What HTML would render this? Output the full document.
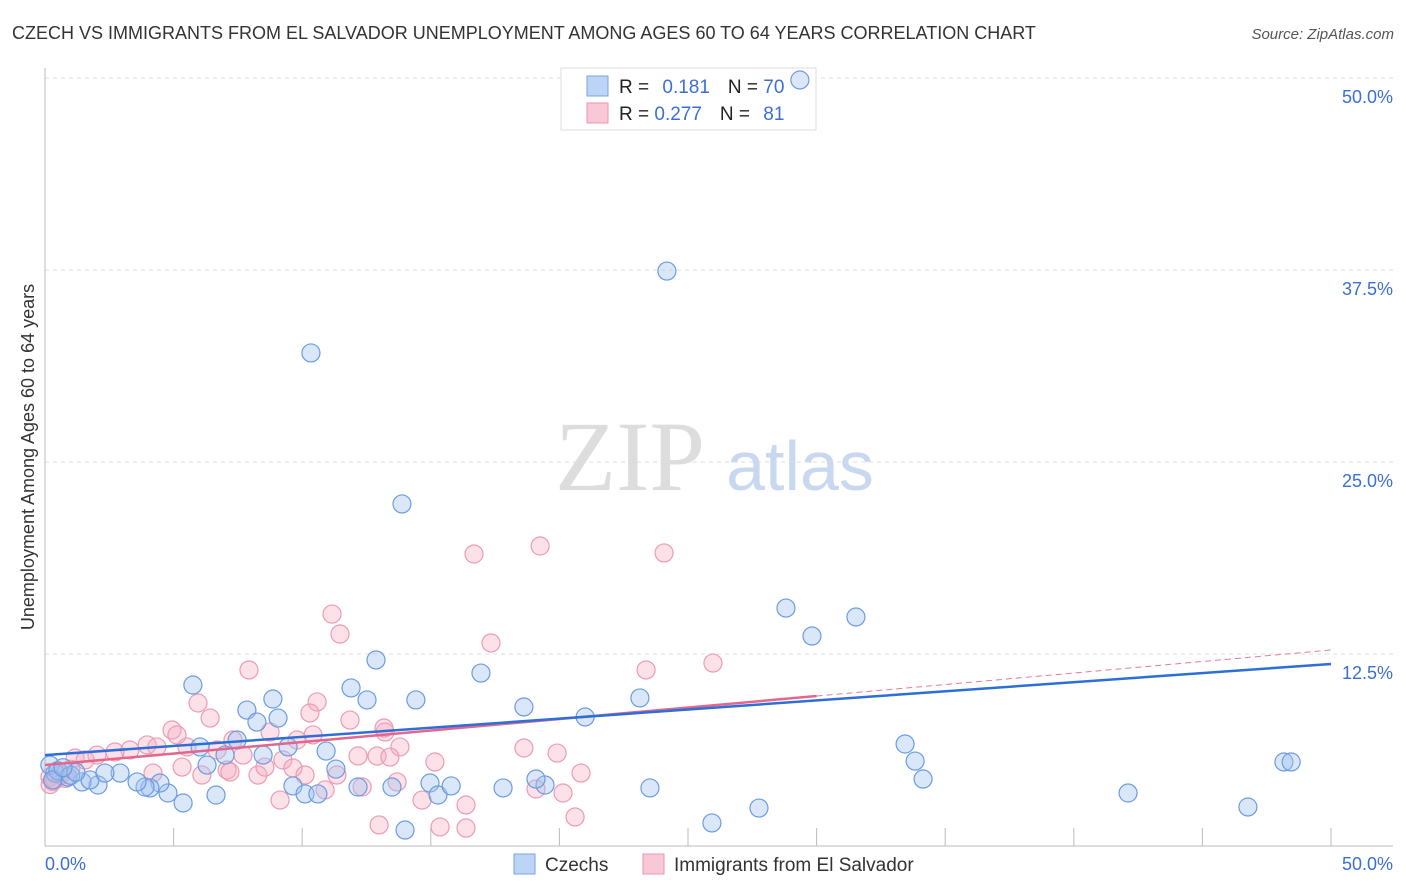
<!DOCTYPE html>
<html><head><meta charset="utf-8"><style>
body{margin:0;background:#fff;font-family:"Liberation Sans",sans-serif}
svg{display:block}
</style></head><body>
<svg id="c" width="1406" height="892" xmlns="http://www.w3.org/2000/svg">
<text x="12" y="39" font-size="18" fill="#333">CZECH VS IMMIGRANTS FROM EL SALVADOR UNEMPLOYMENT AMONG AGES 60 TO 64 YEARS CORRELATION CHART</text>
<text x="1394" y="39" font-size="15" fill="#555" font-style="italic" text-anchor="end">Source: ZipAtlas.com</text>
<text x="630" y="490" font-size="100" fill="#ddd" font-family="Liberation Serif,serif" text-anchor="middle">ZIP</text>
<text x="800" y="490" font-size="70" fill="#c8d8f0" text-anchor="middle">atlas</text>
<text transform="translate(34,457) rotate(-90)" font-size="18" fill="#333" text-anchor="middle">Unemployment Among Ages 60 to 64 years</text>
<g id="grid"></g>
<g>
<rect x="561" y="68" width="255" height="62" fill="#fff" stroke="#ddd"/>
<rect x="587" y="76" width="21" height="20" fill="#bcd4f6" stroke="#7aa3e0"/>
<rect x="587" y="103" width="21" height="20" fill="#f9c8d6" stroke="#eb93ad"/>
<text x="619" y="93" font-size="19" fill="#222">R = <tspan fill="#3b6fd4" dx="8">0.181</tspan><tspan dx="18" fill="#222">N = </tspan><tspan fill="#3b6fd4">70</tspan></text>
<text x="619" y="120" font-size="19" fill="#222">R = <tspan fill="#3b6fd4">0.277</tspan><tspan dx="18" fill="#222">N = </tspan><tspan fill="#3b6fd4" dx="8">81</tspan></text>
</g>
<g id="pts"></g><g id="lines"></g>
<g>
<rect x="514" y="854" width="21" height="20" fill="#bcd4f6" stroke="#7aa3e0"/>
<text x="545" y="871" font-size="19" fill="#333">Czechs</text>
<rect x="643" y="854" width="21" height="20" fill="#f9c8d6" stroke="#eb93ad"/>
<text x="674" y="871" font-size="19" fill="#333">Immigrants from El Salvador</text>
</g>
</svg>
<script>
const yTicks=[12.5,25,37.5,50];
const yTickLabels=["12.5%","25.0%","37.5%","50.0%"];
const xTicks=[0,5,10,15,20,25,30,35,40,45,50];
const czechX=[5.75,7.85,8.86,8.24,9.06,14.42,11.90,12.52,12.87,6.03,7.47,7.00,8.48,9.45,10.93,11.31,6.30,9.64,10.11,10.61,12.17,13.49,14.97,15.28,14.00,6.65,5.37,4.78,4.47,4.08,3.89,3.58,2.92,2.06,1.44,1.75,0.89,0.39,0.19,2.33,29.35,24.18,10.34,13.88,28.81,31.53,29.82,16.95,23.13,18.62,21.00,33.44,33.83,48.17,48.45,42.11,46.77,34.14,27.76,25.93,23.52,19.44,19.09,17.81,15.79,0.5,1.0,0.3,1.2,0.7];
const czechY=[10.48,8.85,9.57,8.07,8.33,9.51,10.29,9.51,12.11,6.45,6.90,5.92,5.92,6.45,6.18,5.01,5.27,3.91,3.39,3.39,3.84,3.84,4.10,3.32,1.04,3.32,2.80,3.45,4.10,3.78,3.84,4.17,4.75,3.97,4.17,4.30,4.49,4.75,5.27,4.75,49.87,37.43,32.10,22.27,15.49,14.91,13.67,11.26,9.64,9.05,8.40,6.64,5.53,5.47,5.47,3.45,2.54,4.36,2.47,1.50,3.78,3.97,4.36,3.78,3.91,4.9,4.6,4.3,4.8,5.1];
const salvX=[7.93,5.95,6.42,4.94,5.13,10.58,10.30,11.86,13.22,13.80,12.17,12.91,13.41,15.16,8.75,10.42,9.80,7.31,6.69,7.70,5.52,3.97,3.30,2.72,2.02,1.17,1.56,4.35,5.33,6.10,7.08,7.19,8.28,8.55,9.25,9.64,10.11,4.20,11.35,10.89,12.33,13.69,14.66,9.14,12.99,15.36,0.19,0.58,0.39,11.16,11.47,16.68,19.25,24.07,17.34,23.37,25.97,18.62,19.91,20.84,19.09,20.14,20.61,16.37,16.37,13.18,0.3,0.8,0.2,1.0,0.6];
const salvY=[11.46,9.31,8.33,7.55,7.23,9.38,8.66,8.20,7.42,6.45,5.86,5.86,5.79,5.47,7.42,7.23,6.90,6.90,6.25,5.92,6.45,6.58,6.25,6.12,5.92,5.73,5.60,6.45,5.14,4.62,4.95,4.82,4.62,5.14,5.60,5.08,4.62,4.75,4.62,3.65,3.84,4.17,2.99,2.99,1.37,1.24,4.49,4.75,4.30,15.10,13.80,19.01,19.53,19.08,13.22,11.46,11.91,6.38,6.05,4.75,3.71,3.45,1.89,1.17,2.67,7.68,4.2,4.4,4.0,5.0,4.6];
const czechTrend=[5.92,11.85];
const salvTrend=[5.27,12.76];
const salvSolidEnd=30;
const X=v=>45+v*25.72, Y=v=>846-v*15.36;
const NS="http://www.w3.org/2000/svg";
function mk(t,a,p){const e=document.createElementNS(NS,t);for(const k in a)e.setAttribute(k,a[k]);p.appendChild(e);return e;}
const g=document.getElementById('grid');
yTicks.forEach((t,i)=>{
 const l=mk('line',{x1:45,x2:1393,y1:Y(t),y2:Y(t),stroke:'#ddd','stroke-dasharray':'4,4'},g);
 
 
 const tx=mk('text',{x:1393,y:Y(t)+25,'font-size':18,fill:'#3b6fd4','text-anchor':'end'},g);
 tx.textContent=yTickLabels[i];
 
 
});
mk('line',{x1:45,x2:45,y1:68,y2:846,stroke:'#bbb'},g);
mk('line',{x1:45,x2:1393,y1:846,y2:846,stroke:'#bbb'},g);
xTicks.forEach(t=>{const l=mk('line',{x1:X(t),x2:X(t),y1:828,y2:846,stroke:'#bbb'},g);
 
 });
const a=mk('text',{x:45,y:870,'font-size':18,fill:'#3b6fd4'},g);a.textContent='0.0%';


const b=mk('text',{x:1393,y:870,'font-size':18,fill:'#3b6fd4','text-anchor':'end'},g);b.textContent='50.0%';


const p=document.getElementById('pts');
salvX.forEach((x,i)=>{const c=mk('circle',{cx:X(x),cy:Y(salvY[i]),r:9,fill:'rgba(246,170,193,0.35)',stroke:'#ec9bb4','stroke-width':1.2},p);
 
 });
czechX.forEach((x,i)=>{const c=mk('circle',{cx:X(x),cy:Y(czechY[i]),r:9,fill:'rgba(160,195,240,0.4)',stroke:'#6c9be0','stroke-width':1.2},p);
 
 });
const L=document.getElementById('lines');
const sy=v=>salvTrend[0]+(salvTrend[1]-salvTrend[0])*v/50;
let d=mk('line',{x1:X(salvSolidEnd),y1:Y(sy(salvSolidEnd)),x2:X(50),y2:Y(salvTrend[1]),stroke:'#e8799b','stroke-width':1,'stroke-dasharray':'6,4'},L);


d=mk('line',{x1:X(0),y1:Y(salvTrend[0]),x2:X(salvSolidEnd),y2:Y(sy(salvSolidEnd)),stroke:'#e3668e','stroke-width':2.5},L);


d=mk('line',{x1:X(0),y1:Y(czechTrend[0]),x2:X(50),y2:Y(czechTrend[1]),stroke:'#2d6fd6','stroke-width':2.5},L);


</script>
</body></html>
